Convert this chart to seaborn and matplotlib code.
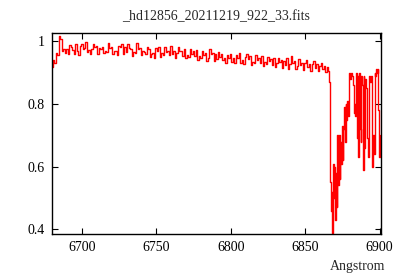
import numpy as np
import pandas as pd
import matplotlib
matplotlib.use('Agg')
import matplotlib.pyplot as plt
import seaborn as sns

# continuum, 1 A steps from 6680 to 6866
cont_start = 6680
cont_flux = [
    0.918, 0.940, 0.932, 0.962, 0.955, 1.015, 1.008, 0.968, 0.975, 0.962,
    0.975, 0.958, 0.988, 0.983, 0.972, 0.958, 0.992, 0.970, 0.955, 0.985,
    0.990, 0.975, 0.978, 0.996, 0.965, 0.972, 0.960, 0.975, 0.992, 0.982,
    0.985, 0.960, 0.978, 0.975, 0.982, 0.962, 0.970, 0.965, 0.995, 0.978,
    0.980, 0.960, 0.968, 0.970, 0.955, 0.985, 0.982, 0.992, 0.958, 0.980,
    0.965, 0.990, 0.978, 0.975, 0.952, 0.965, 0.962, 0.993, 0.975, 0.978,
    0.955, 0.968, 0.965, 0.958, 0.982, 0.975, 0.950, 0.960, 0.962, 0.948,
    0.978, 0.968, 0.982, 0.950, 0.962, 0.955, 0.980, 0.965, 0.970, 0.955,
    0.985, 0.960, 0.968, 0.945, 0.962, 0.980, 0.968, 0.968, 0.952, 0.975,
    0.945, 0.955, 0.950, 0.975, 0.960, 0.968, 0.952, 0.972, 0.940, 0.952,
    0.948, 0.970, 0.955, 0.962, 0.938, 0.945, 0.975, 0.960, 0.962, 0.938,
    0.958, 0.942, 0.966, 0.950, 0.958, 0.940, 0.948, 0.932, 0.955, 0.945,
    0.960, 0.935, 0.945, 0.930, 0.955, 0.948, 0.962, 0.930, 0.940, 0.928,
    0.950, 0.960, 0.942, 0.952, 0.925, 0.935, 0.932, 0.955, 0.940, 0.948,
    0.930, 0.952, 0.922, 0.935, 0.928, 0.950, 0.938, 0.942, 0.925, 0.948,
    0.918, 0.930, 0.948, 0.935, 0.940, 0.915, 0.938, 0.925, 0.945, 0.912,
    0.928, 0.952, 0.930, 0.938, 0.910, 0.920, 0.942, 0.925, 0.932, 0.908,
    0.930, 0.940, 0.918, 0.928, 0.905, 0.928, 0.936, 0.915, 0.928, 0.905,
    0.922, 0.932, 0.912, 0.922, 0.902, 0.918, 0.905,
]

# B band region, 0.5 A steps from 6866.5
band_start = 6866.5
band_flux = [
    0.87, 0.55, 0.46, 0.52, 0.39, 0.61, 0.50, 0.60, 0.43, 0.58,
    0.47, 0.70, 0.54, 0.70, 0.56, 0.68, 0.61, 0.73, 0.62, 0.72,
    0.79, 0.68, 0.80, 0.75, 0.81, 0.76, 0.78, 0.90, 0.88, 0.90,
    0.89, 0.89, 0.86, 0.77, 0.80, 0.76, 0.90, 0.69, 0.89, 0.63,
    0.90, 0.72, 0.68, 0.89, 0.86, 0.59, 0.89, 0.66, 0.88, 0.88,
    0.85, 0.69, 0.63, 0.72, 0.89, 0.87, 0.89, 0.72, 0.60, 0.70,
    0.64, 0.90, 0.89, 0.91, 0.90, 0.91, 0.78, 0.63, 0.70,
]

wave = list(cont_start + np.arange(len(cont_flux))) + \
       list(band_start + 0.5 * np.arange(len(band_flux)))
df = pd.DataFrame({'Angstrom': wave, 'flux': cont_flux + band_flux})

sns.set_style('ticks')
plt.rcParams['font.family'] = ['Liberation Serif', 'DejaVu Serif']

fig = plt.figure(figsize=(4, 2.8), dpi=100)
ax = fig.add_axes([0.13, 0.164, 0.8225, 0.718])
sns.lineplot(x='Angstrom', y='flux', data=df, color='red', linewidth=1.0,
             drawstyle='steps-mid', ax=ax)
ax.set_xlim(6680, 6901)
ax.set_ylim(0.385, 1.026)
ax.set_xticks([6700, 6750, 6800, 6850, 6900])
ax.set_yticks([0.4, 0.6, 0.8, 1.0])
ax.set_yticklabels(['0.4', '0.6', '0.8', '1'])
ax.tick_params(direction='in', length=4, width=0.8, top=True, right=True,
               labelsize=10, colors='black', pad=5)
for s in ax.spines.values():
    s.set_color('black')
    s.set_linewidth(1.0)
ax.set_ylabel('')
ax.set_xlabel('Angstrom', fontsize=10)
ax.xaxis.set_label_coords(0.93, -0.13)
ax.set_title('_hd12856_20211219_922_33.fits', fontsize=10, pad=9)
fig.savefig('out.png', dpi=100, facecolor='white')
